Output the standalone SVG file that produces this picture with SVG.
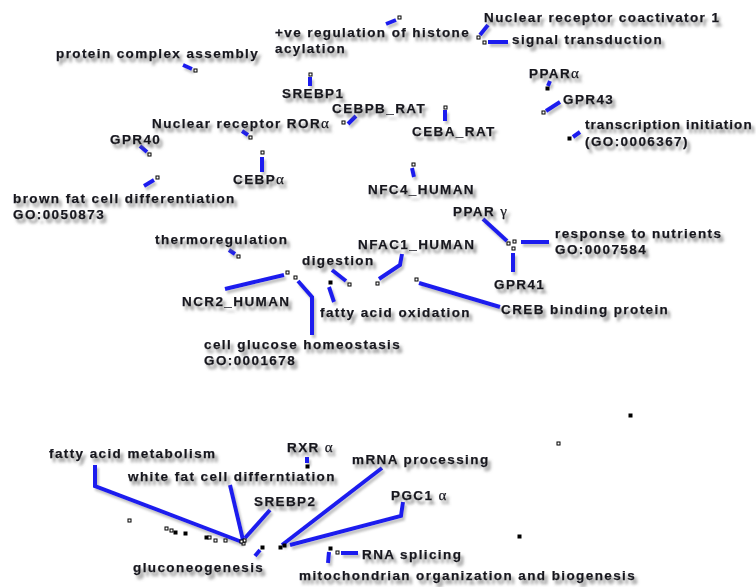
<svg xmlns="http://www.w3.org/2000/svg" width="756" height="587" viewBox="0 0 756 587">
<defs>
<filter id="sh" x="-10%" y="-30%" width="130%" height="190%">
<feGaussianBlur in="SourceAlpha" stdDeviation="1.6" result="b"/>
<feOffset in="b" dx="3" dy="4" result="o"/>
<feFlood flood-color="#6a6a6a" flood-opacity="0.75"/>
<feComposite in2="o" operator="in" result="s"/>
<feMerge><feMergeNode in="s"/><feMergeNode in="SourceGraphic"/></feMerge>
</filter>
<filter id="lsh" x="-20%" y="-20%" width="140%" height="140%">
<feGaussianBlur in="SourceAlpha" stdDeviation="1.2" result="b"/>
<feOffset in="b" dx="2" dy="3" result="o"/>
<feFlood flood-color="#888" flood-opacity="0.5"/>
<feComposite in2="o" operator="in" result="s"/>
<feMerge><feMergeNode in="s"/><feMergeNode in="SourceGraphic"/></feMerge>
</filter>
</defs>
<style>
text{font-family:"Liberation Sans",Arial,sans-serif;font-weight:bold;font-size:13.5px;letter-spacing:1.4px;fill:#16161f;stroke:#16161f;stroke-width:0.25;filter:url(#sh)}
.g{font-family:"Liberation Serif","DejaVu Serif",serif;font-weight:normal;font-size:15px;letter-spacing:0}
.t{letter-spacing:1.05px}
.c line,.c polyline{stroke:#1f1fee;stroke-width:4;fill:none;stroke-linecap:butt;stroke-linejoin:miter}
.c{filter:url(#lsh)}
rect{fill:#fff;stroke:#000;stroke-width:1}
rect.f{fill:#000}
</style>
<rect x="0" y="0" width="756" height="587" style="fill:#fff;stroke:none"/>

<g id="connectors" class="c">
<line x1="386" y1="24" x2="396" y2="20"/>
<line x1="480" y1="35" x2="488" y2="25"/>
<line x1="488" y1="42" x2="508" y2="42"/>
<line x1="183" y1="65" x2="192" y2="69"/>
<line x1="310" y1="77" x2="310" y2="86"/>
<line x1="348" y1="124" x2="356" y2="116"/>
<line x1="242" y1="131" x2="248" y2="135"/>
<line x1="445" y1="110" x2="445" y2="121"/>
<line x1="140" y1="146" x2="147" y2="152"/>
<line x1="262" y1="157" x2="262" y2="172"/>
<line x1="144" y1="186" x2="154" y2="180"/>
<line x1="412" y1="168" x2="414" y2="177"/>
<line x1="550" y1="81" x2="548" y2="86"/>
<line x1="546" y1="111" x2="560" y2="102"/>
<line x1="573" y1="137" x2="580" y2="132"/>
<line x1="483" y1="219" x2="507" y2="241"/>
<line x1="521" y1="242" x2="549" y2="242"/>
<line x1="513" y1="253" x2="513" y2="272"/>
<polyline points="402,254 400,265 379,279"/>
<line x1="419" y1="283" x2="500" y2="307"/>
<line x1="229" y1="250" x2="235" y2="254"/>
<line x1="225" y1="289" x2="284" y2="275"/>
<polyline points="298,281 312,297 312,335"/>
<line x1="329" y1="287" x2="334" y2="302"/>
<line x1="332" y1="270" x2="346" y2="281"/>
<polyline points="95,465 95,486 242,542"/>
<line x1="230" y1="485" x2="243" y2="540"/>
<line x1="270" y1="510" x2="245" y2="538"/>
<line x1="307" y1="457" x2="307" y2="463"/>
<line x1="382" y1="468" x2="282" y2="545"/>
<polyline points="403,502 401,516 290,545"/>
<line x1="255" y1="556" x2="260" y2="550"/>
<line x1="329" y1="552" x2="328" y2="563"/>
<line x1="341" y1="553" x2="358" y2="553"/>
</g>

<g id="n-histone"><text x="275" y="37">+ve regulation of histone</text><text x="275" y="53">acylation</text><rect x="398" y="16" width="3" height="3"/></g>
<g id="n-ncoa1"><text x="484" y="22">Nuclear receptor coactivator 1</text><rect x="477" y="36" width="3" height="3"/></g>
<g id="n-signal"><text x="512" y="44">signal transduction</text><rect x="483" y="41" width="3" height="3"/></g>
<g id="n-protein"><text x="56" y="58">protein complex assembly</text><rect x="194" y="69" width="3" height="3"/></g>
<g id="n-srebp1"><text x="282" y="98">SREBP1</text><rect x="309" y="73" width="3" height="3"/></g>
<g id="n-cebpb"><text x="332" y="113">CEBPB_RAT</text><rect x="342" y="121" width="3" height="3"/></g>
<g id="n-rora"><text x="152" y="128">Nuclear receptor ROR<tspan class="g">α</tspan></text><rect x="249" y="136" width="3" height="3"/></g>
<g id="n-ceba"><text x="412" y="136">CEBA_RAT</text><rect x="444" y="106" width="3" height="3"/></g>
<g id="n-gpr40"><text x="110" y="144">GPR40</text><rect x="148" y="153" width="3" height="3"/></g>
<g id="n-cebpa"><text x="233" y="184">CEBP<tspan class="g">α</tspan></text><rect x="261" y="151" width="3" height="3"/></g>
<g id="n-nfc4"><text x="368" y="194">NFC4_HUMAN</text><rect x="412" y="163" width="3" height="3"/></g>
<g id="n-brown"><text x="13" y="203">brown fat cell differentiation</text><text x="13" y="219">GO:0050873</text><rect x="156" y="176" width="3" height="3"/></g>
<g id="n-ppara"><text x="529" y="78">PPAR<tspan class="g">α</tspan></text><rect x="546" y="87" width="3" height="3" class="f"/></g>
<g id="n-gpr43"><text x="563" y="104">GPR43</text><rect x="542" y="111" width="3" height="3"/></g>
<g id="n-transcr"><text x="585" y="129" class="t">transcription initiation</text><text x="585" y="146">(GO:0006367)</text><rect x="568" y="137" width="3" height="3" class="f"/></g>
<g id="n-pparg"><text x="453" y="216">PPAR <tspan class="g">γ</tspan></text><rect x="507" y="242" width="3" height="3"/></g>
<g id="n-nutrients"><text x="555" y="238">response to nutrients</text><text x="555" y="254">GO:0007584</text><rect x="513" y="240" width="3" height="3"/></g>
<g id="n-gpr41"><text x="494" y="289">GPR41</text><rect x="512" y="247" width="3" height="3"/></g>
<g id="n-creb"><text x="501" y="314">CREB binding protein</text><rect x="415" y="278" width="3" height="3"/></g>
<g id="n-nfac1"><text x="358" y="249">NFAC1_HUMAN</text><rect x="376" y="282" width="3" height="3"/></g>
<g id="n-thermo"><text x="155" y="244">thermoregulation</text><rect x="237" y="255" width="3" height="3"/></g>
<g id="n-digestion"><text x="302" y="265">digestion</text><rect x="348" y="283" width="3" height="3"/></g>
<g id="n-ncr2"><text x="182" y="306">NCR2_HUMAN</text><rect x="286" y="271" width="3" height="3"/></g>
<g id="n-faox"><text x="320" y="317">fatty acid oxidation</text><rect x="329" y="281" width="3" height="3" class="f"/></g>
<g id="n-glucose"><text x="204" y="349">cell glucose homeostasis</text><text x="204" y="365">GO:0001678</text><rect x="294" y="276" width="3" height="3"/></g>
<g id="n-fam"><text x="49" y="458">fatty acid metabolism</text><rect x="242" y="542" width="3" height="3"/></g>
<g id="n-rxra"><text x="287" y="452">RXR <tspan class="g">α</tspan></text><rect x="306" y="465" width="3" height="3" class="f"/></g>
<g id="n-mrna"><text x="352" y="464">mRNA processing</text><rect x="279" y="546" width="3" height="3" class="f"/></g>
<g id="n-white"><text x="128" y="481">white fat cell differntiation</text><rect x="243" y="539" width="3" height="3"/></g>
<g id="n-srebp2"><text x="254" y="506">SREBP2</text><rect x="240" y="540" width="3" height="3"/></g>
<g id="n-pgc1a"><text x="391" y="500">PGC1 <tspan class="g">α</tspan></text><rect x="283" y="544" width="3" height="3" class="f"/></g>
<g id="n-rnasplice"><text x="362" y="559">RNA splicing</text><rect x="336" y="551" width="3" height="3"/></g>
<g id="n-gluco"><text x="133" y="572">gluconeogenesis</text><rect x="261" y="546" width="3" height="3" class="f"/></g>
<g id="n-mito"><text x="299" y="580">mitochondrian organization and biogenesis</text><rect x="329" y="547" width="3" height="3" class="f"/></g>

<g id="points">
<rect x="629" y="414" width="3" height="3" class="f"/>
<rect x="557" y="442" width="3" height="3"/>
<rect x="518" y="535" width="3" height="3" class="f"/>
<rect x="128" y="519" width="3" height="3"/>
<rect x="165" y="527" width="3" height="3"/>
<rect x="170" y="529" width="3" height="3"/>
<rect x="174" y="531" width="3" height="3" class="f"/>
<rect x="184" y="532" width="3" height="3" class="f"/>
<rect x="205" y="536" width="3" height="3" class="f"/>
<rect x="208" y="536" width="3" height="3"/>
<rect x="214" y="539" width="3" height="3"/>
<rect x="224" y="539" width="3" height="3"/>
</g>
</svg>
